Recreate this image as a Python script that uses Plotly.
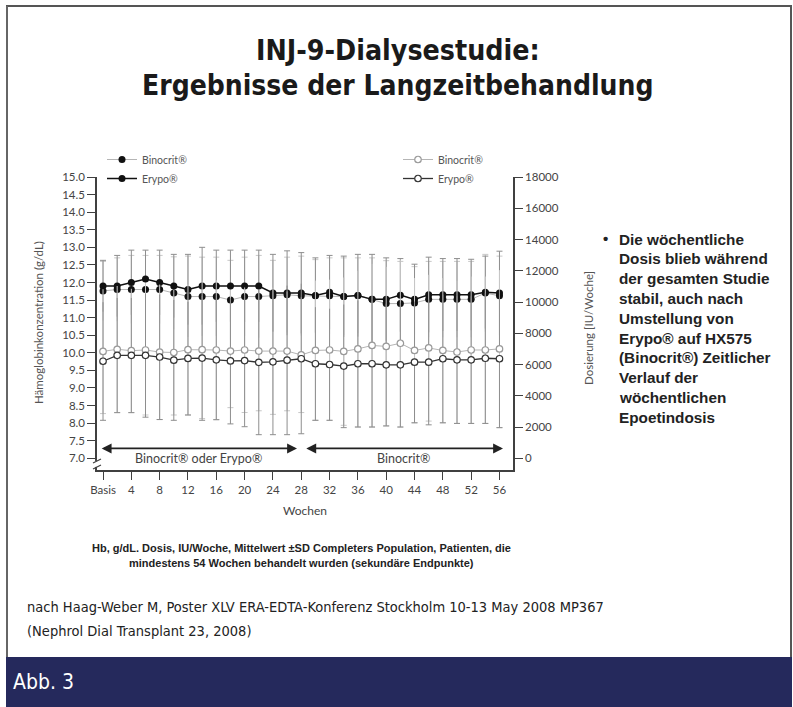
import plotly.graph_objects as go

# ---------------- data ----------------
weeks = list(range(0, 57, 2))
x_tick_vals = list(range(0, 57, 4))
x_tick_text = ["Basis", "4", "8", "12", "16", "20", "24", "28", "32", "36",
               "40", "44", "48", "52", "56"]

# Haemoglobin (g/dL), left axis
hb_erypo = [11.90, 11.90, 12.00, 12.10, 12.00, 11.90, 11.80, 11.90, 11.90, 11.90,
            11.90, 11.90, 11.70, 11.70, 11.70, 11.63, 11.72, 11.60, 11.63, 11.52,
            11.52, 11.64, 11.52, 11.65, 11.65, 11.65, 11.65, 11.72, 11.70]
hb_binocrit = [11.76, 11.80, 11.80, 11.80, 11.80, 11.70, 11.60, 11.60, 11.60, 11.50,
               11.60, 11.60, 11.62, 11.65, 11.62, 11.62, 11.62, 11.60, 11.63, 11.52,
               11.40, 11.40, 11.42, 11.52, 11.52, 11.52, 11.52, 11.70, 11.62]
hb_sd_erypo = [0.73, 0.87, 0.92, 0.82, 0.92, 0.90, 1.00, 1.10, 1.02, 1.02,
               1.02, 1.02, 1.10, 1.20, 1.15, 1.07, 1.05, 1.15, 1.17, 1.28,
               1.18, 1.04, 1.00, 1.07, 1.03, 1.03, 1.01, 1.03, 1.19]
hb_sd_binocrit = [0.84, 0.90, 0.97, 0.97, 0.97, 1.03, 1.15, 1.12, 1.12, 1.13,
                  1.12, 1.17, 1.01, 1.07, 1.13, 1.03, 1.08, 1.10, 1.07, 1.18,
                  1.22, 1.20, 1.03, 1.08, 1.08, 1.08, 1.08, 1.10, 1.13]

# Weekly dose (IU/Woche), right axis
dose_binocrit = [6840, 6975, 6885, 6930, 6795, 6770, 6950, 6950, 6930, 6860,
                 6930, 6860, 6860, 6860, 6615, 6900, 6930, 6840, 7000, 7220,
                 7160, 7360, 6900, 7060, 6900, 6800, 6930, 6930, 7000]
dose_erypo = [6210, 6590, 6590, 6590, 6480, 6280, 6390, 6410, 6300, 6230,
              6250, 6140, 6170, 6280, 6370, 6050, 6000, 5900, 6050, 6050,
              5980, 5980, 6150, 6150, 6370, 6300, 6300, 6400, 6370]
dose_sd_binocrit = [3980, 4050, 3960, 4160, 4320, 4000, 4180, 4410, 4460, 3620,
                    4000, 3820, 4050, 3820, 3690, 4470, 4500, 4730, 5000, 5220,
                    5090, 5360, 4630, 4680, 4630, 4570, 4700, 4700, 5040]
dose_sd_erypo = [3780, 3670, 3670, 3960, 4000, 3850, 3620, 3980, 3830, 4030,
                 4230, 4630, 4660, 4770, 4800, 3620, 3570, 3940, 4050, 4050,
                 3910, 3980, 3880, 4010, 4100, 4070, 4070, 4170, 4410]

left_ticks = [7.0 + 0.5 * i for i in range(17)]
right_ticks = list(range(0, 18001, 2000))

phases = [("Binocrit® oder Erypo®", -0.4, 27.4), ("Binocrit®", 28.5, 56.5)]

bullet_lines = ["Die wöchentliche", "Dosis blieb während", "der gesamten Studie",
                "stabil, auch nach", "Umstellung von", "Erypo® auf HX575",
                "(Binocrit®) Zeitlicher", "Verlauf der", "wöchentlichen",
                "Epoetindosis"]

# ---------------- layout helpers ----------------
W, H = 793, 707
ML, MR, MT, MB = 97, 280, 177, 237
PW, PH = W - ML - MR, H - MT - MB


def px_x(p):
    return (p - ML) / PW


def px_y(p):
    return (H - MB - p) / PH


n = len(weeks)
zeros = [0] * n
AX = "#404040"
SANS = "Lato, DejaVu Sans, sans-serif"
TICKFONT = dict(family=SANS, size=11.5, color="#444")
LEGFONT = dict(family=SANS, size=10.5, color="#555")
NARROW = "Liberation Sans Narrow, Arial Narrow, DejaVu Sans Condensed, sans-serif"
ARIAL = "Liberation Sans, Arial, sans-serif"

fig = go.Figure()

# helper halves of the SD bars (no caps), drawn first so markers cover them
for y, sd, ax, col, side in [
    (hb_binocrit, hb_sd_binocrit, "y", "#c8c8c8", "down"),
    (dose_binocrit, dose_sd_binocrit, "y2", "#c8c8c8", "up"),
    (hb_erypo, hb_sd_erypo, "y", "#8e8e8e", "down"),
    (dose_erypo, dose_sd_erypo, "y2", "#8e8e8e", "up"),
]:
    fig.add_trace(go.Scatter(
        x=weeks, y=y, yaxis=ax, mode="markers",
        marker=dict(color="rgba(0,0,0,0)", size=1),
        error_y=dict(type="data", symmetric=False,
                     array=sd if side == "up" else zeros,
                     arrayminus=sd if side == "down" else zeros,
                     color=col, thickness=1, width=0),
        showlegend=False, hoverinfo="skip"))

# dose series (open markers), right axis, caps at the bottom
fig.add_trace(go.Scatter(
    x=weeks, y=dose_binocrit, yaxis="y2", mode="lines+markers", name="Binocrit®",
    line=dict(color="#b5b5b5", width=1),
    marker=dict(symbol="circle", size=6.5, color="white",
                line=dict(color="#999", width=1.2)),
    error_y=dict(type="data", symmetric=False, array=zeros,
                 arrayminus=dose_sd_binocrit, color="#c8c8c8", thickness=1, width=3),
    legend="legend2", legendrank=1))
fig.add_trace(go.Scatter(
    x=weeks, y=dose_erypo, yaxis="y2", mode="lines+markers", name="Erypo®",
    line=dict(color="#333", width=1.3),
    marker=dict(symbol="circle", size=6.5, color="white",
                line=dict(color="#333", width=1.2)),
    error_y=dict(type="data", symmetric=False, array=zeros,
                 arrayminus=dose_sd_erypo, color="#8e8e8e", thickness=1, width=3),
    legend="legend2", legendrank=2))

# haemoglobin series (filled markers), left axis, caps at the top
fig.add_trace(go.Scatter(
    x=weeks, y=hb_binocrit, yaxis="y", mode="lines+markers", name="Binocrit®",
    line=dict(color="#b5b5b5", width=1),
    marker=dict(symbol="circle", size=7, color="#111"),
    error_y=dict(type="data", symmetric=False, array=hb_sd_binocrit,
                 arrayminus=zeros, color="#c8c8c8", thickness=1, width=3),
    legend="legend", legendrank=1))
fig.add_trace(go.Scatter(
    x=weeks, y=hb_erypo, yaxis="y", mode="lines+markers", name="Erypo®",
    line=dict(color="#111", width=1.5),
    marker=dict(symbol="circle", size=7, color="#111"),
    error_y=dict(type="data", symmetric=False, array=hb_sd_erypo,
                 arrayminus=zeros, color="#8e8e8e", thickness=1, width=3),
    legend="legend", legendrank=2))


def note(px, py, text, font, xanchor="center", angle=0):
    return dict(x=px_x(px), y=px_y(py), xref="paper", yref="paper", text=text,
                showarrow=False, xanchor=xanchor, yanchor="middle",
                textangle=angle, font=font)


annotations = []
# phase arrows and labels
for label, x0, x1 in phases:
    annotations.append(dict(x=x1, y=7.28, ax=x0, ay=7.28, xref="x", yref="y",
                            axref="x", ayref="y", text="", showarrow=True,
                            arrowhead=2, arrowside="end+start", arrowsize=1.1,
                            arrowwidth=1.8, arrowcolor="#222", standoff=0,
                            startstandoff=0))
    annotations.append(dict(x=(x0 + x1) / 2, y=6.99, xref="x", yref="y",
                            text=label, showarrow=False, xanchor="center",
                            yanchor="middle",
                            font=dict(family=SANS, size=12.5, color="#444")))

# axis titles
annotations.append(note(38, 323, "Hämoglobinkonzentration (g/dL)",
                        dict(family=SANS, size=11.5, color="#555"), angle=-90))
annotations.append(note(588, 328, "Dosierung [IU/Woche]",
                        dict(family=SANS, size=11.5, color="#555"), angle=-90))

# title
annotations.append(note(398, 50, "<b>INJ-9-Dialysestudie:</b>",
                        dict(family=NARROW, size=28.3, color="#1a1a1a")))
annotations.append(note(398, 85, "<b>Ergebnisse der Langzeitbehandlung</b>",
                        dict(family=NARROW, size=28, color="#1a1a1a")))

# bullet text on the right
annotations.append(note(605, 238, "<b>•</b>", dict(family=ARIAL, size=15, color="#222")))
for i, line in enumerate(bullet_lines):
    annotations.append(note(617, 239 + i * 19.8, "<b>" + line + "</b>",
                            dict(family=ARIAL, size=15.3, color="#222"),
                            xanchor="left"))

# caption under chart
capfont = dict(family=ARIAL, size=11, color="#222")
annotations.append(note(301, 548, "<b>Hb, g/dL. Dosis, IU/Woche, Mittelwert ±SD "
                                  "Completers Population, Patienten, die</b>", capfont))
annotations.append(note(301, 563, "<b>mindestens 54 Wochen behandelt wurden "
                                  "(sekundäre Endpunkte)</b>", capfont))

# source
srcfont = dict(family=NARROW, size=14.5, color="#222")
annotations.append(note(25, 607, "nach Haag-Weber M, Poster XLV ERA-EDTA-Konferenz "
                                 "Stockholm 10-13 May 2008 MP367", srcfont,
                        xanchor="left"))
annotations.append(note(25, 631, "(Nephrol Dial Transplant 23, 2008)", srcfont,
                        xanchor="left"))

# figure label in band
annotations.append(note(11, 682, "Abb. 3", dict(family=NARROW, size=21, color="white"),
                        xanchor="left"))

shapes = [
    # bottom band
    dict(type="rect", xref="paper", yref="paper", x0=px_x(6), x1=px_x(792),
         y0=px_y(657), y1=px_y(708), fillcolor="#25295c", line=dict(width=0),
         layer="below"),
    # frame lines
    dict(type="line", xref="paper", yref="paper", x0=px_x(6), x1=px_x(792),
         y0=px_y(6), y1=px_y(6), line=dict(color="#555", width=2)),
    dict(type="line", xref="paper", yref="paper", x0=px_x(7), x1=px_x(7),
         y0=px_y(6), y1=px_y(657), line=dict(color="#666", width=2)),
    dict(type="line", xref="paper", yref="paper", x0=px_x(791), x1=px_x(791),
         y0=px_y(6), y1=px_y(657), line=dict(color="#555", width=2)),
    # axis break mark on the left axis
    dict(type="rect", xref="paper", yref="y", xsizemode="pixel", ysizemode="pixel",
         xanchor=0, yanchor=6.84, x0=-2, x1=2, y0=-3, y1=3,
         fillcolor="white", line=dict(width=0)),
    dict(type="path", xref="paper", yref="y", xsizemode="pixel", ysizemode="pixel",
         xanchor=0, yanchor=6.84, path="M-4,1 L4,5 M-4,-5 L4,-1",
         line=dict(color=AX, width=1.2)),
]

fig.update_layout(
    width=W, height=H,
    margin=dict(l=ML, r=MR, t=MT, b=MB, autoexpand=False),
    paper_bgcolor="white", plot_bgcolor="white",
    showlegend=True,
    xaxis=dict(range=[-0.85, 57.91], tickvals=x_tick_vals, ticktext=x_tick_text,
               showgrid=False, zeroline=False, showline=True, linecolor=AX,
               linewidth=1.5, ticks="outside", ticklen=8, tickwidth=1.3,
               tickcolor=AX, tickfont=TICKFONT,
               title=dict(text="Wochen", standoff=12,
                          font=dict(family=SANS, size=12, color="#444"))),
    yaxis=dict(range=[6.667, 15.0], tickvals=left_ticks, tickformat=".1f",
               showgrid=False, zeroline=False, showline=True, linecolor=AX,
               linewidth=1.5, ticks="outside", ticklen=8, tickwidth=1.3,
               tickcolor=AX, tickfont=TICKFONT),
    yaxis2=dict(range=[-750, 18000], tickvals=right_ticks, tickformat="d",
                overlaying="y", side="right", showgrid=False, zeroline=False,
                showline=True, linecolor=AX, linewidth=1.5, ticks="outside",
                ticklen=8, tickwidth=1.3, tickcolor=AX, tickfont=TICKFONT),
    legend=dict(x=px_x(102), y=px_y(145), xanchor="left", yanchor="top",
                bgcolor="rgba(0,0,0,0)", font=LEGFONT, tracegroupgap=0,
                itemwidth=30),
    legend2=dict(x=px_x(398), y=px_y(145), xanchor="left", yanchor="top",
                 bgcolor="rgba(0,0,0,0)", font=LEGFONT, tracegroupgap=0,
                 itemwidth=30),
    annotations=annotations,
    shapes=shapes,
)

fig.write_html("out.html", config={"displayModeBar": False},
               post_script="document.body.style.margin='0';")
